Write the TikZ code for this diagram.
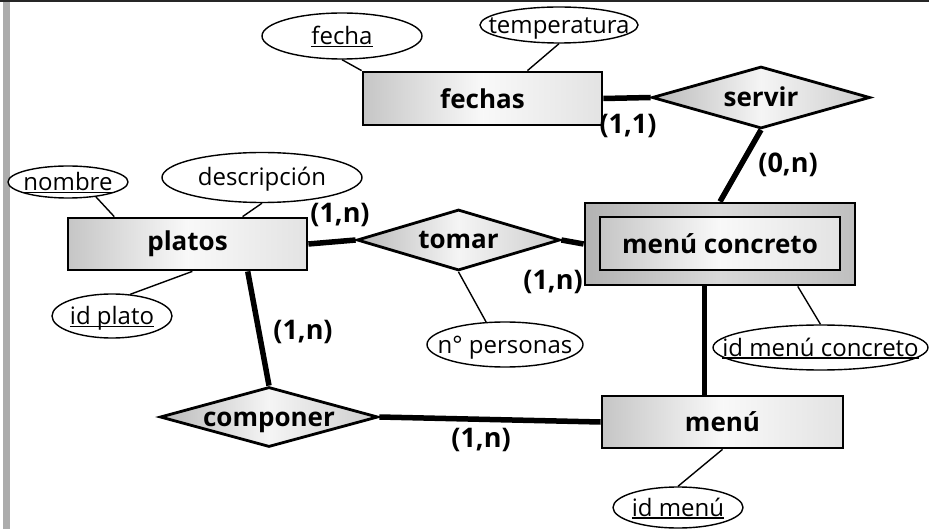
\documentclass[tikz,border=0pt]{standalone}
\usepackage{fontspec}
\setmainfont{Open Sans}
\usetikzlibrary{shapes.geometric,calc}
\newcommand\erEnt{\fontsize{26}{30}\selectfont\bfseries}
\newcommand\erCard{\fontsize{27}{31}\selectfont\bfseries}
\newcommand\erAttr{\fontsize{24}{28}\selectfont}
\newcommand\erUl[1]{\setbox0\hbox{#1}\rlap{\rule[-2.6pt]{\wd0}{1.3pt}}\box0}
\newcommand\erT[1]{\makebox[0pt]{#1}}
\begin{document}
\begin{tikzpicture}[x=1pt,y=-1pt,
  entity/.style={rectangle, draw=black, line width=2.8pt, inner sep=0pt,
    left color=gray!45, right color=gray!22, middle color=gray!5, font=\erEnt},
  rel/.style={diamond, draw=black, line width=2.8pt, inner sep=0pt, text height=18pt, text depth=0pt,
    left color=gray!55, right color=gray!40, middle color=gray!8, font=\erEnt},
  attr/.style={ellipse, draw=black, line width=1.4pt, fill=white, inner sep=0pt,
    text height=17pt, text depth=0pt, font=\erAttr},
  card/.style={inner sep=0pt, font=\erCard},
  thinlink/.style={line width=1.4pt},
  thicklink/.style={line width=5.5pt}]
\useasboundingbox (0,0) rectangle (929,529);
\fill[white] (0,0) rectangle (929,529);
\fill[gray!65] (3,0) rectangle (10,529);
\fill[black!85] (0,0) rectangle (929,2.5);

% entities
\node[entity, minimum width=239, minimum height=53] (fechas) at (482.5,98.5) {fechas};
\node[entity, minimum width=239, minimum height=52] (platos) at (187.5,244) {platos};
\node[entity, minimum width=241, minimum height=52] (menu) at (722.5,422) {men\'u};
\node[rectangle, draw=black, line width=2.8pt, inner sep=0pt, minimum width=270, minimum height=82,
  left color=gray!60, right color=gray!50, middle color=gray!30] (mc) at (720,244) {};
\node[entity, minimum width=240, minimum height=53] (mci) at (720,243.5) {men\'u concreto};

% relationships
\node[rel, minimum width=218, minimum height=62] (servir) at (761,97.5) {\erT{servir}};
\node[rel, minimum width=203, minimum height=61] (tomar) at (458.5,240) {\erT{tomar}};
\node[rel, minimum width=218, minimum height=60] (componer) at (269,417) {\erT{componer}};

% attributes
\node[attr, minimum width=160, minimum height=46] (fecha) at (342,36) {\erT{\erUl{fecha}}};
\node[attr, minimum width=158, minimum height=36] (temp) at (559,25) {\erT{temperatura}};
\node[attr, minimum width=120, minimum height=32] (nombre) at (68,182) {\erT{\erUl{nombre}}};
\node[attr, minimum width=200, minimum height=50] (desc) at (262,177.5) {\erT{descripci\'on}};
\node[attr, minimum width=120, minimum height=44] (idplato) at (112,316) {\erT{\erUl{id plato}}};
\node[attr, minimum width=156, minimum height=45] (np) at (505,344.5) {\erT{n\textdegree{} personas}};
\node[attr, minimum width=215, minimum height=45] (idmc) at (820.5,347.5) {\erT{\erUl{id men\'u concreto}}};
\node[attr, minimum width=130, minimum height=41] (idmenu) at (678,507.5) {\erT{\erUl{id men\'u}}};

% attribute links
\draw[thinlink] (fecha.south) -- (fechas.north west);
\draw[thinlink] (temp.south) -- ($(fechas.north west)!0.686!(fechas.north east)$);
\draw[thinlink] (nombre.-28) -- ($(platos.north west)!0.197!(platos.north east)$);
\draw[thinlink] (desc.south) -- ($(platos.north west)!0.728!(platos.north east)$);
\draw[thinlink] (idplato.50) -- ($(platos.south west)!0.52!(platos.south east)$);
\draw[thinlink] (tomar.south) -- (np.130);
\draw[thinlink] ($(mc.south west)!0.785!(mc.south east)$) -- (idmc.north);
\draw[thinlink] (menu.south) -- (idmenu.north);

% relationship links
\draw[thicklink] (fechas.east) -- (servir.west);
\draw[thicklink] (servir.south) -- (mc.north);
\draw[thicklink] (platos.east) -- (tomar.west);
\draw[thicklink] (tomar.east) -- (mc.west);
\draw[thicklink] ($(platos.south west)!0.749!(platos.south east)$) -- (componer.north);
\draw[thicklink] (componer.east) -- (menu.west);
\coordinate (mcb) at ($(mc.south west)!0.444!(mc.south east)$);
\draw[thicklink] (mcb) -- (mcb |- menu.north);

% cardinalities
\node[card] (c1) at (628,126) {(1,1)};
\node[card] (c2) at (788,165) {(0,n)};
\node[card] (c3) at (340,215) {(1,n)};
\node[card] (c4) at (553,282) {(1,n)};
\node[card] (c5) at (303,332) {(1,n)};
\node[card] (c6) at (481,440) {(1,n)};
\end{tikzpicture}
\end{document}
